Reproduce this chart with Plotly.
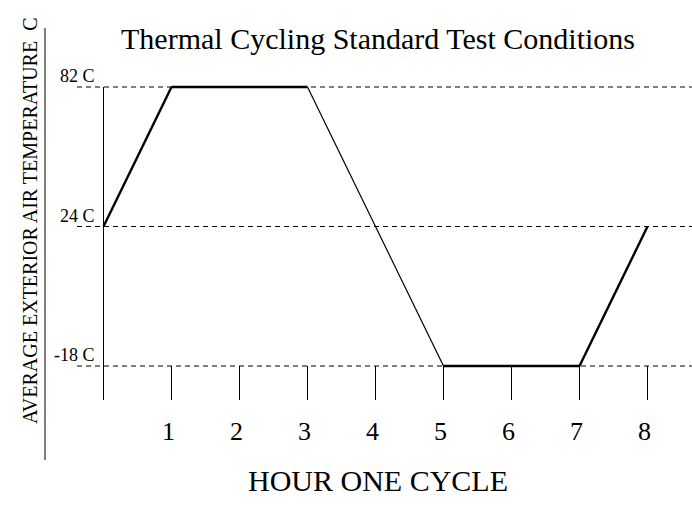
import plotly.graph_objects as go

# ---- data ----
hours = [0, 1, 3, 5, 7, 8]
temps = [24, 82, 82, -18, -18, 24]
levels = [-18, 24, 82]
level_labels = [f"{v} C" for v in levels]
hour_ticks = [1, 2, 3, 4, 5, 6, 7, 8]
title_text = "Thermal Cycling Standard Test Conditions"
x_title = "HOUR ONE CYCLE"
y_title = "AVERAGE EXTERIOR AIR TEMPERATURE  C"

FONT = "Liberation Serif"
W, H = 692, 513
ML, MR, MT, MB = 90, 0, 80, 113

x_range = [-0.1985, 8.6544]
y_range = [-0.2437, 2.0502]

fig = go.Figure()

temp_cat = [f"{t} C" for t in temps]
for i in range(len(hours) - 1):
    cooling = temps[i + 1] < temps[i]
    fig.add_trace(go.Scatter(
        x=hours[i:i + 2], y=temp_cat[i:i + 2], mode="lines",
        line=dict(color="black", width=1.2 if cooling else 2.4),
        showlegend=False, hoverinfo="skip", cliponaxis=False))

shapes = []
# dashed reference lines at each level
for lab in level_labels:
    shapes.append(dict(type="line", xref="paper", yref="y",
                       x0=(77 - ML) / (W - ML - MR), x1=1, y0=lab, y1=lab,
                       line=dict(color="black", width=1, dash="5px,4px")))
# vertical temperature axis line at hour 0
shapes.append(dict(type="line", xref="x", yref="y", x0=0, x1=0,
                   y0=y_range[0], y1=level_labels[-1],
                   line=dict(color="black", width=1)))
# separator line next to y title
shapes.append(dict(type="line", xref="paper", yref="paper",
                   x0=(45 - ML) / (W - ML - MR), x1=(45 - ML) / (W - ML - MR),
                   y0=(400 - 460) / (H - MT - MB), y1=(400 - 28) / (H - MT - MB),
                   line=dict(color="black", width=1)))

annotations = []
for lab in level_labels:
    annotations.append(dict(text=lab, xref="paper", yref="y",
                            x=(97 - ML) / (W - ML - MR), y=lab,
                            xanchor="right", yanchor="middle", yshift=11,
                            showarrow=False, font=dict(family=FONT, size=18, color="black")))
annotations.append(dict(text=x_title, xref="paper", yref="paper",
                        x=(378 - ML) / (W - ML - MR), y=(400 - 480) / (H - MT - MB),
                        xanchor="center", yanchor="middle", showarrow=False,
                        font=dict(family=FONT, size=30, color="black")))
annotations.append(dict(text=y_title, xref="paper", yref="paper",
                        x=(30 - ML) / (W - ML - MR), y=(400 - 221) / (H - MT - MB),
                        xanchor="center", yanchor="middle", textangle=-90, showarrow=False,
                        font=dict(family=FONT, size=20, color="black")))

fig.update_layout(
    width=W, height=H,
    margin=dict(l=ML, r=MR, t=MT, b=MB),
    paper_bgcolor="white", plot_bgcolor="white",
    font=dict(family=FONT, color="black"),
    title=dict(text=title_text, xref="container", yref="container",
               x=378 / W, y=1 - 38.5 / H, xanchor="center", yanchor="middle",
               font=dict(family=FONT, size=30, color="black")),
    shapes=shapes, annotations=annotations,
    xaxis=dict(range=x_range, tickvals=hour_ticks, ticktext=[str(h) for h in hour_ticks],
               ticks="inside", ticklen=34, tickwidth=1, tickcolor="black",
               showgrid=False, zeroline=False, showline=False,
               tickfont=dict(family=FONT, size=26, color="black"),
               ticklabelshift=-3, ticklabelstandoff=13, fixedrange=True),
    yaxis=dict(type="category", categoryorder="array", categoryarray=level_labels,
               range=y_range, showticklabels=False, ticks="",
               showgrid=False, zeroline=False, showline=False, fixedrange=True),
    showlegend=False,
)

fig.write_html("out.html", config={"displayModeBar": False},
               post_script="document.body.style.margin='0';document.body.style.padding='0';")
